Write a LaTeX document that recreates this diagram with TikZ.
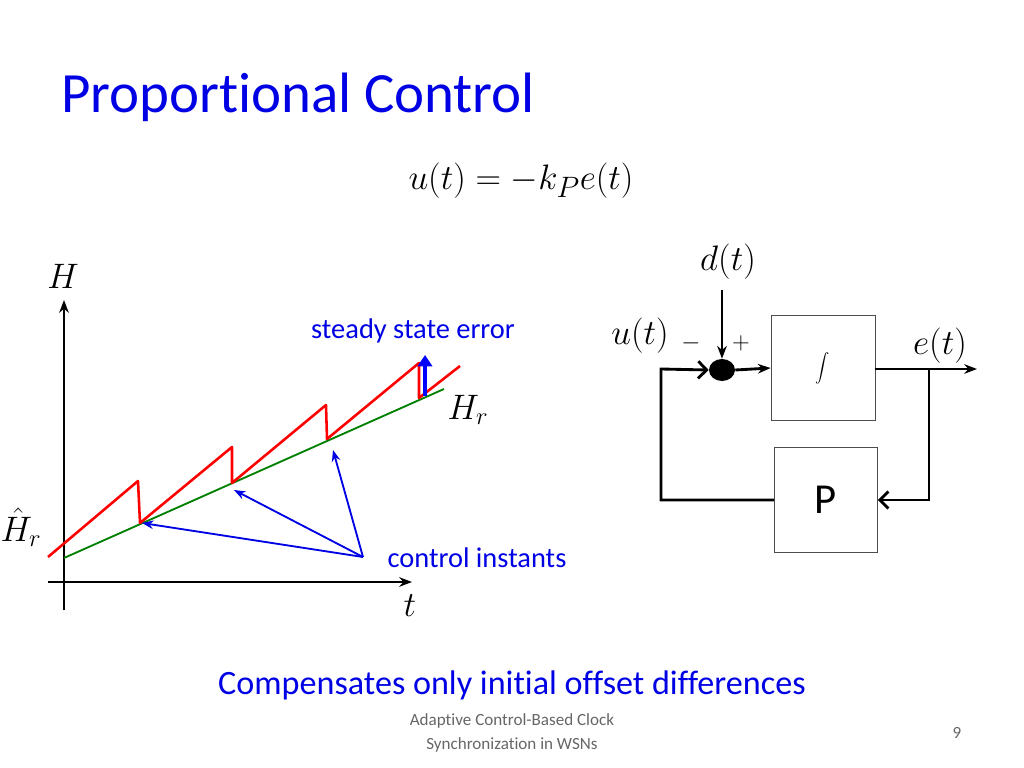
\documentclass[tikz,border=0pt]{standalone}
\usepackage{fontspec}
\setmainfont{Carlito}[Ligatures=NoCommon]
\usetikzlibrary{arrows.meta,shapes.geometric}
\begin{document}
\begin{tikzpicture}[x=0.703pt,y=-0.703pt,
  ln/.style={line width=2pt},
  blk/.style={draw=black!70,line width=0.5pt,fill=white},
  bl/.style={blue!90!black,line width=1.3pt,-{Stealth[length=8pt]}},
  mth/.style={font=\fontsize{27}{30}\selectfont}]
\useasboundingbox (0,0) rectangle (1024,768);
\node[anchor=west,text=blue!90!black,font=\fontsize{40}{44}\selectfont] (title) at (56,97) {Proportional Control};
\node[font=\fontsize{31}{34}\selectfont] (eq) at (521,181) {$u(t)=-k_Pe(t)$};
% plot
\coordinate (yb) at (64,610); \coordinate (yt) at (64,300);
\coordinate (xl) at (48,582); \coordinate (xr) at (412,582);
\draw[line width=1.3pt,-{Stealth[length=9pt]}] (yb) -- (yt);
\draw[line width=1.3pt,-{Stealth[length=9pt]}] (xl) -- (xr);
\coordinate (g0) at (64,558); \coordinate (g1) at (444,389);
\draw[green!50!black,line width=1.3pt] (g0) -- (g1);
\draw[red,line width=1.8pt,line join=round] (48,557) -- (138,481) -- (140,523) -- (232,447) -- (232,483) -- (326,405) -- (327,439) -- (419,363) -- (419,398) -- (460,366);
\coordinate (ci) at (363,557);
\coordinate (c1) at (142,523); \coordinate (c2) at (234,490); \coordinate (c3) at (333,450);
\draw[bl] (ci) -- (c1); \draw[bl] (ci) -- (c2); \draw[bl] (ci) -- (c3);
\coordinate (sa) at (425,396); \coordinate (sb) at (425,355);
\draw[blue,line width=3.2pt,-{Triangle[length=8pt,width=10pt]}] (sa) -- (sb);
\node[mth] (H) at (63,276) {$H$};
\node[mth] (Hh) at (21,527) {$\hat H_r$};
\node[mth] (Hr) at (468,410) {$H_r$};
\node[mth] (t) at (410,606) {$t$};
\node[text=blue!90!black,font=\fontsize{20}{24}\selectfont] (sse) at (413,331) {steady state error};
\node[text=blue!90!black,font=\fontsize{20}{24}\selectfont] (cil) at (477,558) {control instants};
% block diagram
\node[blk,minimum width=104*0.703pt,minimum height=105*0.703pt] (int) at (823,368) {\fontsize{30}{34}\selectfont$\displaystyle\int$};
\node[blk,minimum width=103*0.703pt,minimum height=105*0.703pt,font=\fontsize{30}{34}\selectfont] (P) at (826,500) {P};
\node[fill=black,ellipse,inner sep=0pt,minimum width=26*0.703pt,minimum height=22*0.703pt,draw=none] (sum) at (722,370) {};
\coordinate (dtop) at (722,290);
\draw[ln,-{Stealth[length=9pt]}] (dtop) -- (sum.north);
\draw[ln,-{Stealth[length=9pt]}] (sum.east) -- (int.west);
\coordinate (tap) at (929,369); \coordinate (out) at (977,369);
\draw[ln,-{Stealth[length=9pt]}] (int.east |- tap) -- (out);
\draw[ln,-{Straight Barb[length=6pt]}] (tap) |- (P.east);
\coordinate (lc) at (661,500); \coordinate (lt) at (661,369);
\draw[ln,-{Straight Barb[length=6pt]}] (P.west) -- (lc) -- (lt) -- (sum.west);
\node[mth] (dl) at (728,262) {$d(t)$};
\node[mth] (ul) at (640,336) {$u(t)$};
\node[font=\fontsize{18}{20}\selectfont] (mi) at (691,343) {$-$};
\node[font=\fontsize{18}{20}\selectfont] (pl) at (741,343) {$+$};
\node[mth] (el) at (940,346) {$e(t)$};
% footer
\node[text=blue!90!black,font=\fontsize{24}{28}\selectfont] (comp) at (512,685) {Compensates only initial offset differences};
\node[text=black!60,font=\fontsize{12}{17}\selectfont,align=center] (foot) at (512,733) {Adaptive Control-Based Clock\\Synchronization in WSNs};
\node[text=black!60,font=\fontsize{12}{14}\selectfont] (pg) at (957,733) {9};
\end{tikzpicture}
\end{document}
